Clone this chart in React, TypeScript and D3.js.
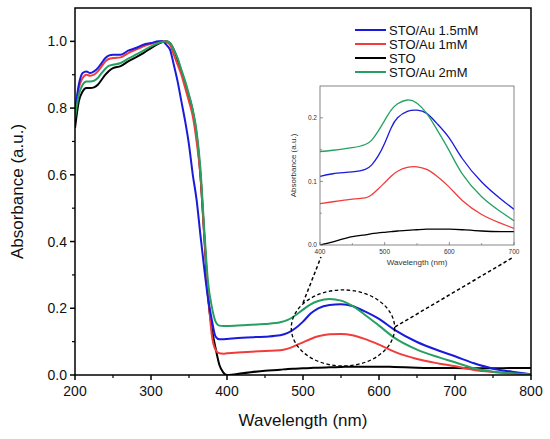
import * as d3 from "d3";

const wavelength = [
  200, 205, 210, 215, 220, 225, 230, 235, 240, 245, 250, 260, 270, 280, 290, 300, 310, 315, 320, 325,
  330, 335, 340, 345, 350, 355, 360, 365, 370, 375, 380, 385, 390, 395, 400, 420, 450, 470, 480, 490,
  500, 510, 520, 535, 550, 565, 580, 600, 620, 650, 680, 700, 725, 750, 775, 800,
];

const stoAu15 = [
  0.79, 0.87, 0.905, 0.91, 0.905, 0.91, 0.92, 0.935, 0.95, 0.958, 0.96, 0.96, 0.972, 0.98, 0.99, 0.995, 1.0, 1.0, 0.99, 0.975,
  0.93, 0.88, 0.82, 0.76, 0.69, 0.6, 0.525, 0.42, 0.32, 0.23, 0.165, 0.115, 0.107, 0.107, 0.108, 0.112, 0.115, 0.119, 0.126, 0.14,
  0.16, 0.184, 0.2, 0.21, 0.212, 0.207, 0.192, 0.168, 0.136, 0.099, 0.072, 0.056, 0.035, 0.019, 0.01, 0.002,
];

const stoAu1 = [
  0.78, 0.86, 0.89, 0.9, 0.897, 0.9, 0.91, 0.925, 0.94, 0.948, 0.95, 0.952, 0.965, 0.975, 0.985, 0.993, 0.998, 1.0, 0.998, 0.99,
  0.96, 0.93, 0.9, 0.86, 0.82, 0.775, 0.7, 0.6, 0.42, 0.25, 0.12, 0.075, 0.065, 0.064, 0.065, 0.068, 0.072, 0.074, 0.079, 0.088,
  0.098, 0.108, 0.116, 0.122, 0.123, 0.119, 0.109, 0.091, 0.07, 0.048, 0.034, 0.026, 0.015, 0.009, 0.005, 0.002,
];

const sto = [
  0.74, 0.82, 0.85, 0.86, 0.86, 0.862, 0.87, 0.885, 0.9, 0.912, 0.92, 0.926, 0.94, 0.952, 0.965, 0.98, 0.993, 0.998, 1.0, 0.995,
  0.975, 0.945, 0.91, 0.875, 0.835, 0.79, 0.72, 0.6, 0.42, 0.235, 0.14, 0.08, 0.03, 0.008, 0.0, 0.005, 0.013, 0.016, 0.018, 0.019,
  0.02, 0.021, 0.022, 0.023, 0.024, 0.025, 0.025, 0.025, 0.024, 0.022, 0.021, 0.021, 0.02, 0.02, 0.021, 0.021,
];

const stoAu2 = [
  0.77, 0.84, 0.87, 0.88, 0.88, 0.882, 0.89, 0.905, 0.918, 0.927, 0.93, 0.935, 0.948, 0.96, 0.972, 0.985, 0.995, 0.998, 1.0, 0.995,
  0.975, 0.95, 0.915, 0.88, 0.84, 0.795, 0.73, 0.62, 0.44, 0.28, 0.205, 0.16, 0.148, 0.147, 0.147, 0.149, 0.153, 0.158, 0.165, 0.179,
  0.196, 0.212, 0.222, 0.228, 0.223, 0.207, 0.183, 0.148, 0.112, 0.076, 0.052, 0.038, 0.02, 0.01, 0.005, 0.002,
];

const seriesNames = ["STO/Au 1.5mM", "STO/Au 1mM", "STO", "STO/Au 2mM"];
const seriesColors = ["#1a1adc", "#f23c3c", "#000000", "#25a062"];
const seriesValues = [stoAu15, stoAu1, sto, stoAu2];
// draw order so green/blue end up on top like the original
const drawOrder = [2, 1, 0, 3];

const xTicks = [200, 300, 400, 500, 600, 700, 800];
const yTicks = [0.0, 0.2, 0.4, 0.6, 0.8, 1.0];
const insetXTicks = [400, 500, 600, 700];
const insetYTicks = [0.0, 0.1, 0.2];

const FONT = "'Liberation Sans', Arial, Helvetica, sans-serif";

export default function App() {
  const W = 550;
  const H = 439;
  const m = { left: 75, right: 531, top: 8, bottom: 375 };

  const x = d3.scaleLinear().domain([200, 800]).range([m.left, m.right]);
  const y = d3.scaleLinear().domain([0, 1.1]).range([m.bottom, m.top]);

  const line = d3
    .line<number>()
    .x((_, i) => x(wavelength[i]))
    .y((d) => y(d))
    .curve(d3.curveMonotoneX);

  // inset, same data zoomed to 400-700 nm
  const ins = { left: 320, right: 514, top: 86, bottom: 245 };
  const ix = d3.scaleLinear().domain([400, 700]).range([ins.left, ins.right]);
  const iy = d3.scaleLinear().domain([0, 0.25]).range([ins.bottom, ins.top]);
  const insetIdx = wavelength.map((_, i) => i).filter((i) => wavelength[i] >= 400 && wavelength[i] <= 700);
  const insetPath = (vals: number[]) =>
    d3
      .line<number>()
      .x((i) => ix(wavelength[i]))
      .y((i) => iy(vals[i]))
      .curve(d3.curveNatural)(insetIdx);

  const minorX = d3.range(250, 800, 100);
  const minorY = d3.range(0.1, 1.1, 0.2);
  const insetMinorX = [450, 550, 650];
  const insetMinorY = [0.05, 0.15];

  // zoom annotation
  const ellCx = x(552.6);
  const ellCy = y(0.141);
  const ellRx = x(620.6) - x(552.6);
  const ellRy = y(0) - y(0.114);

  const legendX = 355;
  const legendY = 30;
  const legendStep = 14;

  return (
    <div style={{ position: "absolute", left: 0, top: 0 }}>
      <svg width={W} height={H} style={{ fontFamily: FONT, background: "#fff", display: "block" }}>
        <defs>
          <clipPath id="mainClip">
            <rect x={m.left} y={m.top} width={m.right - m.left} height={m.bottom - m.top} />
          </clipPath>
          <clipPath id="insetClip">
            <rect x={ins.left} y={ins.top} width={ins.right - ins.left} height={ins.bottom - ins.top} />
          </clipPath>
        </defs>

        {/* main lines */}
        <g clipPath="url(#mainClip)">
          {drawOrder.map((s) => (
            <path key={s} d={line(seriesValues[s]) || ""} fill="none" stroke={seriesColors[s]} strokeWidth={2} />
          ))}
        </g>

        {/* frame */}
        <rect x={m.left} y={m.top} width={m.right - m.left} height={m.bottom - m.top} fill="none" stroke="#000" strokeWidth={1.5} />

        {/* x ticks */}
        {xTicks.map((t) => (
          <g key={t}>
            <line x1={x(t)} x2={x(t)} y1={m.bottom} y2={m.bottom + 5} stroke="#000" strokeWidth={1.5} />
            <text x={x(t)} y={m.bottom + 21} fontSize={14} textAnchor="middle" fill="#111">
              {t}
            </text>
          </g>
        ))}
        {minorX.map((t) => (
          <line key={t} x1={x(t)} x2={x(t)} y1={m.bottom} y2={m.bottom + 3} stroke="#000" strokeWidth={1.2} />
        ))}

        {/* y ticks */}
        {yTicks.map((t) => (
          <g key={t}>
            <line x1={m.left - 5} x2={m.left} y1={y(t)} y2={y(t)} stroke="#000" strokeWidth={1.5} />
            <text x={m.left - 8} y={y(t) + 5} fontSize={14} textAnchor="end" fill="#111">
              {t.toFixed(1)}
            </text>
          </g>
        ))}
        {minorY.map((t) => (
          <line key={t} x1={m.left - 3} x2={m.left} y1={y(t)} y2={y(t)} stroke="#000" strokeWidth={1.2} />
        ))}

        <text x={(m.left + m.right) / 2} y={426} fontSize={17} textAnchor="middle" fill="#111">
          Wavelength (nm)
        </text>
        <text
          transform={`translate(23,${(m.top + m.bottom) / 2}) rotate(-90)`}
          fontSize={17}
          textAnchor="middle"
          fill="#111"
        >
          Absorbance (a.u.)
        </text>

        {/* legend */}
        {seriesNames.map((n, i) => (
          <g key={n} transform={`translate(${legendX},${legendY + i * legendStep})`}>
            <line x1={0} x2={31} y1={0} y2={0} stroke={seriesColors[i]} strokeWidth={2} />
            <text x={34} y={4.5} fontSize={13} fill="#111">
              {n}
            </text>
          </g>
        ))}

        {/* dashed zoom annotation */}
        <ellipse cx={ellCx} cy={ellCy} rx={ellRx} ry={ellRy} fill="none" stroke="#000" strokeWidth={1.3} strokeDasharray="3.5,2.5" />
        <line x1={x(500)} y1={y(0.216)} x2={ix(400) + 1} y2={ins.bottom + 12} stroke="#000" strokeWidth={1.5} strokeDasharray="3.5,2.5" />
        <line x1={x(621)} y1={y(0.144)} x2={ix(700) - 2} y2={ins.bottom + 13} stroke="#000" strokeWidth={1.5} strokeDasharray="3.5,2.5" />

        {/* inset */}
        <g clipPath="url(#insetClip)">
          {drawOrder.map((s) => (
            <path key={s} d={insetPath(seriesValues[s]) || ""} fill="none" stroke={seriesColors[s]} strokeWidth={1.3} />
          ))}
        </g>
        <rect x={ins.left} y={ins.top} width={ins.right - ins.left} height={ins.bottom - ins.top} fill="none" stroke="#666" strokeWidth={0.8} />
        {insetXTicks.map((t) => (
          <g key={t}>
            <line x1={ix(t)} x2={ix(t)} y1={ins.bottom} y2={ins.bottom - 3} stroke="#666" strokeWidth={0.7} />
            <text x={ix(t)} y={ins.bottom + 9} fontSize={6.5} textAnchor="middle" fill="#333">
              {t}
            </text>
          </g>
        ))}
        {insetMinorX.map((t) => (
          <line key={t} x1={ix(t)} x2={ix(t)} y1={ins.bottom} y2={ins.bottom - 2} stroke="#666" strokeWidth={0.6} />
        ))}
        {insetYTicks.map((t) => (
          <g key={t}>
            <line x1={ins.left} x2={ins.left + 3} y1={iy(t)} y2={iy(t)} stroke="#666" strokeWidth={0.7} />
            <text x={ins.left - 3} y={iy(t) + 2.3} fontSize={6.5} textAnchor="end" fill="#333">
              {t.toFixed(1)}
            </text>
          </g>
        ))}
        {insetMinorY.map((t) => (
          <line key={t} x1={ins.left} x2={ins.left + 2} y1={iy(t)} y2={iy(t)} stroke="#666" strokeWidth={0.6} />
        ))}
        <text x={(ins.left + ins.right) / 2} y={ins.bottom + 20} fontSize={8} textAnchor="middle" fill="#333">
          Wavelength (nm)
        </text>
        <text
          transform={`translate(${ins.left - 24},${(ins.top + ins.bottom) / 2}) rotate(-90)`}
          fontSize={8}
          textAnchor="middle"
          fill="#333"
        >
          Absorbance (a.u.)
        </text>
      </svg>
    </div>
  );
}
